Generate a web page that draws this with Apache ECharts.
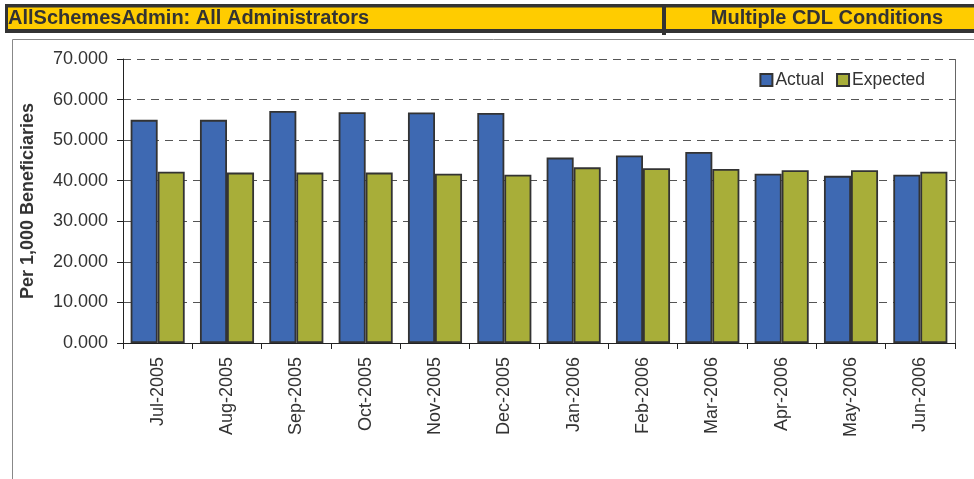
<!DOCTYPE html>
<html><head><meta charset="utf-8">
<script src="https://cdn.jsdelivr.net/npm/echarts@6/dist/echarts.min.js"></script>
<style>html,body{margin:0;padding:0;background:#fff}#c{width:974px;height:479px}</style>
</head><body><div id="c"></div>
<script>
var categories = ['Jul-2005','Aug-2005','Sep-2005','Oct-2005','Nov-2005','Dec-2005','Jan-2006','Feb-2006','Mar-2006','Apr-2006','May-2006','Jun-2006'];
var actual   = [55.0, 55.0, 57.2, 56.9, 56.8, 56.7, 45.7, 46.2, 47.1, 41.7, 41.2, 41.5];
var expected = [42.2, 42.0, 42.0, 42.0, 41.7, 41.5, 43.3, 43.1, 42.9, 42.6, 42.6, 42.2];
var yTicks = [0, 10, 20, 30, 40, 50, 60, 70];
var titleLeft = 'AllSchemesAdmin: All Administrators';
var titleRight = 'Multiple CDL Conditions';

var chart = echarts.init(document.getElementById('c'), null, {renderer:'canvas'});
var font = 'Liberation Sans, Arial, sans-serif';
chart.setOption({
  animation:false,
  textStyle:{fontFamily:font},
  graphic:[
    {type:'rect', shape:{x:5,y:4,width:969,height:29}, style:{fill:'#333'}},
    {type:'rect', shape:{x:8,y:7.5,width:966,height:21.5}, style:{fill:'#FFCC00'}},
    {type:'rect', shape:{x:662,y:4,width:4,height:31}, style:{fill:'#333'}},
    {type:'text', left:8, top:8, style:{text:titleLeft, font:'bold 20px Liberation Sans, Arial', fill:'#333'}},
    {type:'text', right:31, top:8, style:{text:titleRight, font:'bold 20px Liberation Sans, Arial', fill:'#333'}},
    {type:'rect', shape:{x:12.5,y:39.5,width:975,height:450}, style:{fill:'none', stroke:'#888', lineWidth:1}},
    {type:'line', shape:{x1:955.5,y1:59,x2:955.5,y2:343}, style:{stroke:'#666', lineWidth:1}}
  ],
  legend:{
    data:['Actual','Expected'], right:44, top:66,
    itemWidth:12, itemHeight:12, itemGap:12,
    textStyle:{fontSize:17.5, color:'#333', padding:[0,0,0,-2]},
    icon:'rect'
  },
  grid:{left:123, right:19, top:59, bottom:136, containLabel:false},
  xAxis:{
    type:'category', data:categories,
    axisLine:{show:true, lineStyle:{color:'#222', width:1}},
    axisTick:{show:true, length:6, lineStyle:{color:'#222'}},
    axisLabel:{rotate:90, fontSize:18, color:'#333', margin:14},
    splitLine:{show:false}
  },
  yAxis:{
    type:'value', min:0, max:70, interval:10,
    name:'Per 1,000 Beneficiaries', nameLocation:'middle', nameGap:86,
    nameTextStyle:{fontSize:18, fontWeight:'bold', color:'#333'},
    axisLine:{show:true, lineStyle:{color:'#222'}},
    axisTick:{show:true, length:6, lineStyle:{color:'#222'}},
    axisLabel:{fontSize:18, color:'#333', margin:15, formatter:function(v){return v.toFixed(3);}},
    splitLine:{show:true, lineStyle:{color:'#555', type:[8,6], width:1}}
  },
  series:[
    {name:'Actual', type:'bar', data:actual, barGap:'0%', barCategoryGap:'22%',
     itemStyle:{color:'#3E69B2', borderColor:'#333', borderWidth:1.8}},
    {name:'Expected', type:'bar', data:expected,
     itemStyle:{color:'#A8AE39', borderColor:'#333', borderWidth:1.8}}
  ]
});
</script></body></html>
